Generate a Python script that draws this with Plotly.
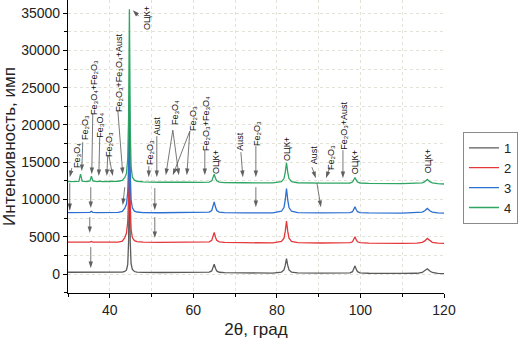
import plotly.graph_objects as go

# 2θ grid (degrees) shared by all four diffraction patterns
two_theta = [30.0, 31.5, 32.6, 33.0, 33.4, 34.5, 35.25, 35.6, 35.95, 37.0, 37.6, 38.2,
             40.0, 42.0, 43.0, 43.6, 44.0, 44.3, 44.5, 44.62, 44.7, 44.78, 44.9, 45.1,
             45.4, 45.9, 46.5, 48.0, 52.0, 55.5, 56.8, 58.0, 61.5, 62.7, 63.8, 64.4,
             64.7, 65.0, 65.3, 65.6, 66.2, 67.5, 72.0, 75.0, 79.0, 81.1, 81.7, 82.0,
             82.3, 82.6, 82.9, 83.5, 85.0, 90.5, 95.0, 97.5, 98.1, 98.4, 98.7, 99.0,
             99.3, 99.9, 102.0, 110.0, 113.5, 114.8, 115.4, 116.0, 116.6, 117.2, 118.5, 120.0]

# Intensities (counts), each pattern shifted upward for readability
sample_1 = [250, 248, 246, 246, 245, 244, 245, 255, 243, 240, 240, 238,
            235, 235, 280, 360, 560, 1300, 4300, 10500, 14000, 10500, 4300, 1400,
            620, 350, 280, 235, 215, 205, 200, 195, 185, 182, 260, 430,
            790, 1340, 790, 430, 250, 190, 160, 155, 145, 280, 570, 1170,
            2090, 1170, 570, 280, 175, 125, 115, 180, 330, 640, 1110, 640,
            330, 180, 120, 95, 115, 225, 420, 710, 420, 225, 110, 80]

sample_2 = [4290, 4285, 4285, 4290, 4285, 4285, 4300, 4380, 4300, 4280, 4290, 4280,
            4280, 4300, 4420, 4900, 5500, 7000, 10500, 16500, 20500, 16500, 9500, 6000,
            4900, 4480, 4360, 4290, 4260, 4250, 4250, 4245, 4230, 4230, 4320, 4520,
            4950, 5590, 4950, 4520, 4320, 4250, 4210, 4205, 4190, 4390, 4820, 5730,
            7100, 5730, 4820, 4390, 4230, 4175, 4160, 4210, 4330, 4590, 5000, 4590,
            4330, 4210, 4160, 4130, 4150, 4260, 4460, 4780, 4460, 4260, 4150, 4120]

sample_3 = [8240, 8235, 8235, 8240, 8235, 8240, 8280, 8430, 8280, 8240, 8250, 8240,
            8240, 8280, 8420, 8850, 9400, 11000, 14500, 20500, 24000, 20000, 13500, 10000,
            8900, 8450, 8330, 8250, 8230, 8225, 8225, 8220, 8215, 8215, 8310, 8530,
            8990, 9690, 8990, 8530, 8310, 8240, 8210, 8240, 8205, 8430, 8920, 9940,
            11480, 9940, 8920, 8430, 8250, 8220, 8195, 8250, 8370, 8630, 9020, 8630,
            8370, 8250, 8200, 8175, 8200, 8310, 8500, 8800, 8500, 8310, 8200, 8170]

sample_4 = [12390, 12380, 12430, 13400, 12460, 12390, 12500, 13130, 12500, 12400, 12460, 12410,
            12400, 12450, 12560, 12950, 13500, 15500, 21000, 30000, 35500, 29500, 19500, 14500,
            13000, 12600, 12450, 12370, 12320, 12320, 12420, 12320, 12290, 12360, 12330, 12500,
            12860, 13400, 12860, 12500, 12330, 12270, 12250, 12260, 12230, 12410, 12810, 13650,
            14910, 13650, 12810, 12410, 12250, 12210, 12170, 12220, 12340, 12590, 12960, 12590,
            12340, 12220, 12170, 12130, 12140, 12230, 12400, 12690, 12400, 12230, 12140, 12080]

series_names = ["1", "2", "3", "4"]
series_colors = ["#5a5a5a", "#e3373a", "#2b6fd0", "#2ea563"]

x_ticks = [40, 60, 80, 100, 120]
y_ticks = [0, 5000, 10000, 15000, 20000, 25000, 30000, 35000]

FE2O3 = "Fe₂O₃"
FE3O4 = "Fe₃O₄"
BCC = "ОЦК+"

# Phase labels: (text, 2θ, intensity at label centre)
phase_labels = [
    (FE3O4, 32.1, 15950),
    (FE2O3, 34.0, 19700),
    (FE3O4 + "+" + FE2O3, 36.2, 25070),
    (FE3O4, 37.8, 19970),
    (FE2O3, 39.8, 17430),
    (FE2O3 + "+" + FE3O4 + "+Aust", 42.2, 27080),
    (BCC, 48.9, 34320),
    (FE2O3, 49.6, 16350),
    ("Aust", 51.3, 19970),
    (FE3O4, 55.6, 21720),
    (FE2O3, 59.9, 20910),
    (FE2O3 + "+" + FE3O4, 63.0, 20240),
    (BCC, 65.4, 15010),
    ("Aust", 71.1, 17830),
    (FE2O3, 75.2, 18900),
    (BCC, 82.4, 16760),
    ("Aust", 88.9, 15950),
    (FE2O3, 92.9, 15680),
    (FE2O3 + "+Aust", 96.0, 19840),
    (BCC, 98.7, 15010),
    (BCC, 116.2, 15150),
]

# Pointer arrows: (tail 2θ, tail intensity, head 2θ, head intensity)
pointers = [
    (30.90, 14210, 30.42, 13000),
    (33.53, 17690, 33.29, 13810),
    (35.93, 21580, 35.69, 13400),
    (37.60, 18360, 37.37, 13140),
    (39.52, 15950, 39.28, 13140),
    (39.76, 15950, 40.72, 13140),
    (41.92, 21980, 43.11, 13400),
    (46.95, 34580, 45.51, 35390),
    (49.34, 14480, 49.34, 13000),
    (51.26, 18500, 51.26, 13000),
    (55.09, 19300, 53.41, 13270),
    (55.09, 19300, 56.53, 13270),
    (59.16, 19170, 55.09, 13270),
    (59.16, 19170, 58.44, 13270),
    (62.75, 16620, 62.75, 13270),
    (71.38, 16350, 71.86, 13000),
    (74.97, 17160, 74.97, 13000),
    (88.38, 14340, 89.34, 12870),
    (92.69, 14340, 91.74, 12870),
    (95.81, 16620, 95.81, 12870),
    (30.42, 12200, 30.42, 8580),
    (35.45, 11660, 35.45, 8850),
    (43.59, 11660, 43.11, 9250),
    (50.78, 11530, 50.78, 8580),
    (74.97, 11660, 74.97, 8980),
    (89.58, 12200, 90.54, 8980),
    (35.21, 7640, 35.21, 5500),
    (50.78, 7640, 50.78, 4830),
    (35.45, 3620, 35.45, 800),
]

FONT = "Liberation Sans, Arial, sans-serif"

fig = go.Figure()
for name, ys, color in zip(series_names, [sample_1, sample_2, sample_3, sample_4], series_colors):
    fig.add_trace(go.Scatter(x=two_theta, y=ys, mode="lines", name=name,
                             line=dict(color=color, width=1.3)))

# Pointer arrows: thin shafts with an arrow-shaped marker at each head
arrow_x, arrow_y, arrow_size = [], [], []
for tx, ty, hx, hy in pointers:
    arrow_x += [tx, hx, None]
    arrow_y += [ty, hy, None]
    arrow_size += [0, 7, 0]
fig.add_trace(go.Scatter(
    x=arrow_x, y=arrow_y, mode="lines+markers", showlegend=False, hoverinfo="skip",
    line=dict(color="#555555", width=0.8),
    marker=dict(symbol="arrow", size=arrow_size, angleref="previous",
                color="#1e1e1e", line=dict(width=0)),
))

annotations = []
for text, xv, yv in phase_labels:
    annotations.append(dict(x=xv, y=yv, xref="x", yref="y", text=text, showarrow=False,
                            textangle=-90, font=dict(family=FONT, size=9, color="#111")))

grid_color = "#e2e2d8"
fig.update_layout(
    width=522, height=344,
    margin=dict(l=68, r=78, t=0, b=51),
    paper_bgcolor="white", plot_bgcolor="white",
    font=dict(family=FONT, color="#222"),
    annotations=annotations,
    showlegend=True,
    legend=dict(x=1.0505, y=0.55, xanchor="left", yanchor="top",
                bordercolor="#8a8a8a", borderwidth=1, bgcolor="white",
                font=dict(family=FONT, size=13, color="#222"),
                tracegroupgap=0, itemwidth=30),
    xaxis=dict(range=[30, 120], tickmode="array", tickvals=x_ticks,
               ticks="outside", ticklen=4, tickcolor="black",
               showline=True, linecolor="black", linewidth=1.2,
               showgrid=True, gridcolor=grid_color, griddash="dot", gridwidth=1,
               zeroline=False, tickfont=dict(size=14),
               minor=dict(dtick=10, tick0=30, ticks="outside", ticklen=3, tickcolor="black",
                          showgrid=True, gridcolor=grid_color, griddash="dot"),
               title=dict(text="2θ, град", font=dict(size=17), standoff=6)),
    yaxis=dict(range=[-2530, 36750], tickmode="array", tickvals=y_ticks, tickformat="d",
               ticks="outside", ticklen=4, tickcolor="black",
               showline=True, linecolor="black", linewidth=1.2,
               showgrid=True, gridcolor=grid_color, griddash="dot", gridwidth=1,
               zeroline=False, tickfont=dict(size=14),
               minor=dict(dtick=2500, tick0=0, ticks="outside", ticklen=3, tickcolor="black",
                          showgrid=True, gridcolor=grid_color, griddash="dot"),
               title=dict(text="Интенсивность, имп", font=dict(size=17), standoff=2)),
)

fig.write_html("out.html")
